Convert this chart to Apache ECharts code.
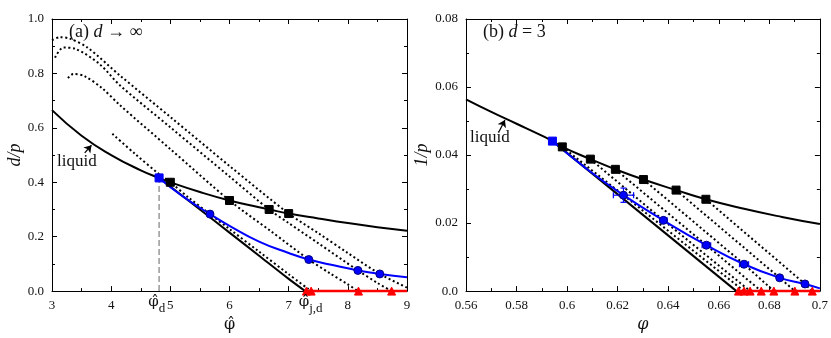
<!DOCTYPE html>
<html>
<head>
<meta charset="utf-8">
<script src="https://cdn.jsdelivr.net/npm/echarts@6/dist/echarts.min.js"></script>
<style>
  html, body { margin: 0; padding: 0; background: #fff; }
  #chart { width: 831px; height: 338px; }
</style>
</head>
<body>
<div id="chart"></div>
<script>
// ---- panel (a): d -> infinity ----
const liquidA = [[3, 0.665], [3.5, 0.571], [4, 0.5], [4.5, 0.444], [4.81, 0.416], [5, 0.4], [5.5, 0.364],
  [6, 0.333], [6.5, 0.308], [6.67, 0.3], [7, 0.285], [7.5, 0.267], [8, 0.25], [8.5, 0.235], [9, 0.222]]
const jamLineA = [[4.81, 0.416], [5.5, 0.3], [6, 0.215], [6.5, 0.13], [7, 0.045], [7.28, 0]]
const gardnerA = [[4.81, 0.416], [5.2, 0.35], [5.67, 0.283], [6, 0.24], [6.5, 0.182], [7, 0.14], [7.34, 0.116],
  [7.8, 0.093], [8.17, 0.076], [8.54, 0.063], [9, 0.051]]
const glassA1 = [[3.0, 0.922], [3.13, 0.933], [3.3, 0.928], [3.6, 0.895], [4.15, 0.792], [5, 0.64], [6, 0.46],
  [7, 0.285], [7.5, 0.213], [8, 0.14], [8.54, 0.063], [9, 0.013]]
const glassA2 = [[3.05, 0.858], [3.19, 0.895], [3.4, 0.89], [3.8, 0.835], [4.15, 0.756], [5, 0.602], [6, 0.421],
  [6.67, 0.3], [7, 0.25], [7.5, 0.176], [8.17, 0.076], [8.5, 0.03], [8.74, 0]]
const glassA3 = [[3.27, 0.783], [3.36, 0.798], [3.55, 0.79], [3.85, 0.745], [4.15, 0.683], [5, 0.522], [6, 0.333],
  [6.7, 0.22], [7.34, 0.116], [7.7, 0.065], [8.0, 0.025], [8.17, 0]]
const glassA4 = [[4.02, 0.578], [4.4, 0.505], [4.81, 0.43], [5, 0.4], [5.3, 0.345], [5.67, 0.283], [6, 0.228],
  [6.5, 0.145], [7, 0.062], [7.38, 0]]
const dynPointA = [[4.81, 0.416]]
const squaresA = [[5.0, 0.4], [6.0, 0.333], [6.67, 0.3], [7.0, 0.285]]
const circlesA = [[5.67, 0.283], [7.34, 0.116], [8.17, 0.076], [8.54, 0.063]]
const trianglesA = [[7.3, 0], [7.38, 0], [8.18, 0], [8.74, 0]]
const jammedA = [[7.28, 0], [9, 0]]
const dynDropA = [[4.81, 0], [4.81, 0.416]]
const extraTicksA = [[4.77, 0, 'd'], [7.37, 0, 'j,d']]
const arrowA = [[3.553, 0.508], [3.667, 0.536]]

// ---- panel (b): d = 3 ----
const liquidB = [[0.56, 0.0564], [0.57, 0.0527], [0.58, 0.0492], [0.59, 0.0457], [0.5942, 0.0441], [0.5981, 0.0424],
  [0.6092, 0.0388], [0.6191, 0.0358], [0.6302, 0.0328], [0.6431, 0.0297], [0.6549, 0.027], [0.67, 0.0242],
  [0.685, 0.0218], [0.70, 0.0197]]
const jamLineB = [[0.5942, 0.0441], [0.667, 0]]
const gardnerB = [[0.5942, 0.0441], [0.608, 0.0358], [0.6223, 0.0282], [0.6381, 0.0208], [0.6551, 0.0135],
  [0.670, 0.0079], [0.6841, 0.0039], [0.6941, 0.0021], [0.70, 0.0008]]
const dynPointB = [[0.5942, 0.0441]]
const squaresB = [[0.5981, 0.0424], [0.6092, 0.0388], [0.6191, 0.0358], [0.6302, 0.0328], [0.6431, 0.0297], [0.6549, 0.027]]
const circlesB = [[0.6223, 0.0282], [0.6381, 0.0208], [0.6551, 0.0135], [0.670, 0.0079], [0.6841, 0.0039], [0.6941, 0.0021]]
const trianglesB = [[0.6678, 0], [0.670, 0], [0.6724, 0], [0.6768, 0], [0.6818, 0], [0.6901, 0], [0.697, 0]]
const errorsB = [[0.6223, 0.0282, 0.004, 0.0021], [0.6381, 0.0208, 0.0015, 0], [0.6551, 0.0135, 0.0017, 0], [0.670, 0.0079, 0.0018, 0]]
const jammedB = [[0.667, 0], [0.70, 0]]
const arrowB = [[0.5731, 0.0469], [0.5754, 0.0503]]

const serif = 'Liberation Serif'
const greek = 'DejaVu Serif'
const chart = echarts.init(document.getElementById('chart'))

function tickAxis(extra) {
  return Object.assign({
    axisLine: { show: true, onZero: false, lineStyle: { color: '#000', width: 1 } },
    axisTick: { show: true, inside: true, length: 5, lineStyle: { color: '#000' } },
    minorTick: { show: true, splitNumber: 2, length: 3, lineStyle: { color: '#000' } },
    splitLine: { show: false },
    axisLabel: { show: false }
  }, extra)
}
const lbl = { show: true, color: '#111', fontFamily: serif, fontSize: 13, margin: 8 }

// state-following glass lines: each pair of black square / blue circle / red triangle
function dotted(data, xi, smooth) {
  return { type: 'line', data: data, xAxisIndex: xi, yAxisIndex: xi, smooth: smooth, showSymbol: false,
    z: 1, lineStyle: { color: '#000', width: 2, type: [2, 2.6] } }
}
function solid(data, xi, color, width, smooth) {
  return { type: 'line', data: data, xAxisIndex: xi, yAxisIndex: xi, smooth: smooth, showSymbol: false,
    z: 2, lineStyle: { color: color, width: width } }
}
function marks(data, xi, symbol, color, size) {
  return { type: 'scatter', data: data, xAxisIndex: xi, yAxisIndex: xi, symbol: symbol, symbolSize: size,
    z: 5, itemStyle: { color: color, opacity: 1, borderColor: symbol === 'circle' ? '#00007a' : color, borderWidth: 1 } }
}
function arrow(coords, xi) {
  return { type: 'lines', coordinateSystem: 'cartesian2d', xAxisIndex: xi, yAxisIndex: xi, z: 6,
    symbol: ['none', 'arrow'], symbolSize: 7,
    lineStyle: { color: '#000', width: 1.2, opacity: 1 }, data: [{ coords: coords }] }
}

chart.setOption({
  animation: false,
  grid: [
    { left: 52, top: 19, width: 355, height: 276 },
    { left: 466, top: 19, width: 355, height: 276 }
  ],
  xAxis: [
    tickAxis({ gridIndex: 0, type: 'value', min: 3, max: 9, interval: 1, position: 'bottom',
      axisLabel: lbl, name: 'φ\u0302', nameLocation: 'middle', nameGap: 20,
      nameTextStyle: { fontFamily: greek, fontSize: 16, color: '#111' } }),
    tickAxis({ gridIndex: 0, type: 'value', min: 3, max: 9, interval: 1, position: 'top' }),
    tickAxis({ gridIndex: 1, type: 'value', min: 0.56, max: 0.7, interval: 0.02, position: 'bottom',
      axisLabel: Object.assign({}, lbl, { formatter: v => String(parseFloat(v.toFixed(2))) }),
      name: 'φ', nameLocation: 'middle', nameGap: 20,
      nameTextStyle: { fontFamily: greek, fontSize: 16, color: '#111', fontStyle: 'italic' } }),
    tickAxis({ gridIndex: 1, type: 'value', min: 0.56, max: 0.7, interval: 0.02, position: 'top' })
  ],
  yAxis: [
    tickAxis({ gridIndex: 0, type: 'value', min: 0, max: 1, interval: 0.2, position: 'left',
      axisLabel: Object.assign({}, lbl, { formatter: v => v.toFixed(1) }),
      name: 'd/p', nameLocation: 'middle', nameGap: 22, nameRotate: 90,
      nameTextStyle: { fontFamily: serif, fontSize: 18, color: '#111', fontStyle: 'italic' } }),
    tickAxis({ gridIndex: 0, type: 'value', min: 0, max: 1, interval: 0.2, position: 'right' }),
    tickAxis({ gridIndex: 1, type: 'value', min: 0, max: 0.08, interval: 0.02, position: 'left',
      axisLabel: Object.assign({}, lbl, { formatter: v => v === 0 ? '0.0' : String(parseFloat(v.toFixed(2))) }),
      name: '1/p', nameLocation: 'middle', nameGap: 28, nameRotate: 90,
      nameTextStyle: { fontFamily: serif, fontSize: 18, color: '#111', fontStyle: 'italic' } }),
    tickAxis({ gridIndex: 1, type: 'value', min: 0, max: 0.08, interval: 0.02, position: 'right' })
  ],
  series: [
    // panel a
    dotted(glassA1, 0, 0.3), dotted(glassA2, 0, 0.3), dotted(glassA3, 0, 0.3), dotted(glassA4, 0, 0.3),
    { type: 'line', data: dynDropA, xAxisIndex: 0, yAxisIndex: 0, showSymbol: false, z: 2,
      lineStyle: { color: '#888', width: 1.3, type: [6, 3] } },
    solid(liquidA, 0, '#000', 2, true),
    solid(jamLineA, 0, '#000', 2, 0.3),
    solid(gardnerA, 0, '#0000ff', 2, true),
    solid(jammedA, 0, '#ff0000', 2.6, false),
    marks(squaresA, 0, 'rect', '#000', 8),
    marks(dynPointA, 0, 'rect', '#0000ff', 8),
    marks(circlesA, 0, 'circle', '#0000ff', 8),
    marks(trianglesA, 0, 'triangle', '#ff0000', 8),
    arrow(arrowA, 0),
    { type: 'scatter', data: extraTicksA, xAxisIndex: 0, yAxisIndex: 0, symbolSize: 0, z: 7, silent: true,
      itemStyle: { opacity: 1 },
      label: { show: true, position: 'bottom', distance: 4, opacity: 1,
        formatter: p => '{v|φ\u0302}{s|' + p.data[2] + '}',
        rich: { v: { fontFamily: greek, fontSize: 15, color: '#111', lineHeight: 20, verticalAlign: 'top' },
                s: { fontFamily: serif, fontSize: 13, color: '#111', verticalAlign: 'bottom', lineHeight: 20, padding: [3, 0, 0, 0] } } } },
    // panel b
    ...squaresB.map((sq, i) => dotted([sq, circlesB[i], trianglesB[i + 1]], 2, false)),
    solid(liquidB, 2, '#000', 2, true),
    solid(jamLineB, 2, '#000', 2, false),
    solid(gardnerB, 2, '#0000ff', 2, true),
    solid(jammedB, 2, '#ff0000', 2.6, false),
    {
      type: 'custom', xAxisIndex: 2, yAxisIndex: 2, z: 4, data: errorsB,
      renderItem: function (params, api) {
        const x = api.value(0), y = api.value(1), dx = api.value(2), dy = api.value(3)
        const l = api.coord([x - dx, y]), r = api.coord([x + dx, y])
        const t = api.coord([x, y + dy]), b = api.coord([x, y - dy])
        const st = { stroke: '#0000ff', lineWidth: 1.2 }
        const kids = [
          { type: 'line', shape: { x1: l[0], y1: l[1], x2: r[0], y2: r[1] }, style: st },
          { type: 'line', shape: { x1: l[0], y1: l[1] - 3, x2: l[0], y2: l[1] + 3 }, style: st },
          { type: 'line', shape: { x1: r[0], y1: r[1] - 3, x2: r[0], y2: r[1] + 3 }, style: st }
        ]
        if (dy > 0) {
          kids.push({ type: 'line', shape: { x1: t[0], y1: t[1], x2: b[0], y2: b[1] }, style: st })
          kids.push({ type: 'line', shape: { x1: t[0] - 3, y1: t[1], x2: t[0] + 3, y2: t[1] }, style: st })
          kids.push({ type: 'line', shape: { x1: b[0] - 3, y1: b[1], x2: b[0] + 3, y2: b[1] }, style: st })
        }
        return { type: 'group', children: kids }
      }
    },
    marks(squaresB, 2, 'rect', '#000', 8),
    marks(dynPointB, 2, 'rect', '#0000ff', 8),
    marks(circlesB, 2, 'circle', '#0000ff', 8),
    marks(trianglesB, 2, 'triangle', '#ff0000', 8),
    arrow(arrowB, 2)
  ],
  graphic: [
    { type: 'text', left: 69, top: 23, style: { text: '{r|(a) }{i|d}{r| → ∞}',
      rich: { r: { fontFamily: serif, fontSize: 18, fill: '#111' }, i: { fontFamily: serif, fontSize: 18, fontStyle: 'italic', fill: '#111' } } } },
    { type: 'text', left: 483, top: 23, style: { text: '{r|(b) }{i|d}{r| = 3}',
      rich: { r: { fontFamily: serif, fontSize: 18, fill: '#111' }, i: { fontFamily: serif, fontSize: 18, fontStyle: 'italic', fill: '#111' } } } },
    { type: 'text', left: 57, top: 153, style: { text: 'liquid', fontFamily: serif, fontSize: 17, fill: '#111' } },
    { type: 'text', left: 470, top: 129, style: { text: 'liquid', fontFamily: serif, fontSize: 17, fill: '#111' } }
  ]
})
</script>
</body>
</html>
